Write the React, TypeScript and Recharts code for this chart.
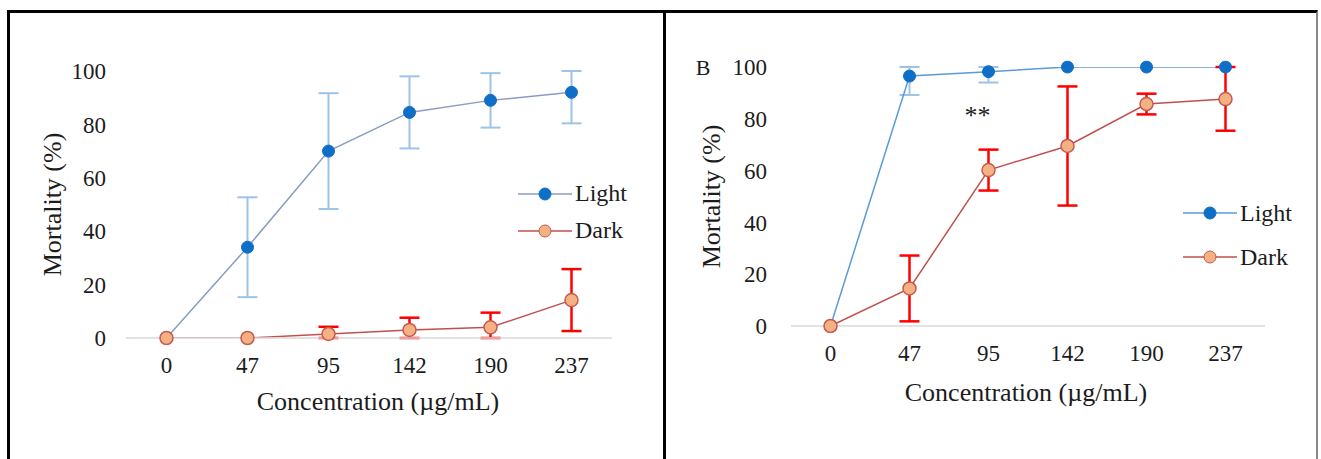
import { ErrorBar, Label, Legend, Line, LineChart, ReferenceDot, XAxis, YAxis } from "recharts"

const categories = ["0", "47", "95", "142", "190", "237"]
const yTicks = [0, 20, 40, 60, 80, 100]

// panel A  (error = [below, above], cut at the 0-100 axis range like the original)
const lightA = [0, 34, 70, 84.5, 89, 92]
const lightAErr = [0, 18.7, 21.7, 13.5, 10.2, [11.6, 8]]
const darkA = [0, 0, 1.5, 3, 4, 14.2]
const darkAErr = [0, 0, [1.5, 2.7], [3, 4.6], [4, 5.5], 11.6]

// panel B
const lightB = [0, 96.5, 98.2, 100, 100, 100]
const lightBErr = [0, [7.3, 3.5], [4.2, 1.8], 0, 0, 0]
const darkB = [0, 14.5, 60.2, 69.5, 85.7, 87.6]
const darkBErr = [0, 12.7, 7.9, 23, 4, [12.2, 12.4]]

const FONT = "'Liberation Serif', 'Times New Roman', serif"
const TEXT = "#1c1c1c"

type Err = number | number[]

const buildRows = (light: number[], lightErr: Err[], dark: number[], darkErr: Err[]) =>
  categories.map((cat, i) => ({ cat, light: light[i], lightErr: lightErr[i], dark: dark[i], darkErr: darkErr[i] }))

const dataA = buildRows(lightA, lightAErr, darkA, darkAErr)
const dataB = buildRows(lightB, lightBErr, darkB, darkBErr)

function LegendBox({ lightLine, gap }: { lightLine: string; gap: number }) {
  const items = [
    { name: "Light", line: lightLine, fill: "#0F6FC6", stroke: "#0F6FC6" },
    { name: "Dark", line: "#C0504D", fill: "#F4B183", stroke: "#C65A4E" },
  ]
  return (
    <div style={{ fontFamily: FONT, fontSize: 24, color: TEXT }}>
      {items.map((it) => (
        <div key={it.name} style={{ display: "flex", alignItems: "center", height: gap }}>
          <svg width={54} height={16} style={{ marginRight: 3 }}>
            <line x1={0} y1={8} x2={54} y2={8} stroke={it.line} strokeWidth={1.5} />
            <circle cx={27} cy={8} r={6} fill={it.fill} stroke={it.stroke} strokeWidth={1} />
          </svg>
          <span>{it.name}</span>
        </div>
      ))}
    </div>
  )
}

interface PanelProps {
  data: ReturnType<typeof buildRows>
  width: number
  margin: { top: number; right: number; bottom: number; left: number }
  yWidth: number
  pad: number
  lightLine: string
  yTitleX: number
  xTitleX: number
  xTitleY: number
  tickGap: number
  legendPos: { left: number; top: number }
  legendGap: number
  letter?: { x: number; y: number }
  stars?: boolean
}

function Panel(p: PanelProps) {
  const plotTop = p.margin.top
  const plotBottom = 459 - p.margin.bottom - 60
  const yMid = (plotTop + plotBottom) / 2
  return (
    <LineChart width={p.width} height={459} data={p.data} margin={p.margin} style={{ fontFamily: FONT }}>
      <XAxis
        dataKey="cat"
        height={60}
        padding={{ left: p.pad, right: p.pad }}
        axisLine={{ stroke: "#D9D9D9", strokeWidth: 1.5 }}
        tickLine={false}
        tickSize={0}
        tickMargin={19}
        tick={{ fill: TEXT, fontSize: 23, fontFamily: FONT }}
      >
        <Label
          content={() => (
            <text x={p.xTitleX} y={p.xTitleY} textAnchor="middle" fill={TEXT} fontSize={26} fontFamily={FONT}>
              Concentration (µg/mL)
            </text>
          )}
        />
      </XAxis>
      <YAxis
        width={p.yWidth}
        domain={[0, 100]}
        allowDataOverflow
        ticks={yTicks}
        axisLine={false}
        tickLine={false}
        tickSize={0}
        tickMargin={p.tickGap}
        tick={{ fill: TEXT, fontSize: 23, fontFamily: FONT }}
      >
        <Label
          content={() => (
            <g>
              <text
                x={p.yTitleX}
                y={yMid}
                textAnchor="middle"
                dominantBaseline="central"
                transform={`rotate(-90, ${p.yTitleX}, ${yMid})`}
                fill={TEXT}
                fontSize={26}
                fontFamily={FONT}
              >
                Mortality (%)
              </text>
              {p.letter && (
                <text x={p.letter.x} y={p.letter.y} textAnchor="middle" dominantBaseline="central" fill={TEXT} fontSize={22} fontFamily={FONT}>
                  B
                </text>
              )}
            </g>
          )}
        />
      </YAxis>
      {p.stars && (
        <ReferenceDot
          x="95"
          y={83}
          r={0}
          fill="none"
          stroke="none"
          label={{ value: "**", position: "center", dx: -11, dy: 4, fill: TEXT, fontSize: 26, fontFamily: FONT }}
        />
      )}
      <Line
        dataKey="light"
        stroke={p.lightLine}
        strokeWidth={1.5}
        dot={{ r: 6, fill: "#0F6FC6", stroke: "#0F6FC6", strokeWidth: 1, clipDot: false }}
        activeDot={false}
        isAnimationActive={false}
      >
        <ErrorBar dataKey="lightErr" direction="y" width={10} stroke="#9DC3E6" strokeWidth={2} />
      </Line>
      <Line
        dataKey="dark"
        stroke="#C0504D"
        strokeWidth={1.5}
        dot={{ r: 6.5, fill: "#F4B183", stroke: "#C65A4E", strokeWidth: 1.5, clipDot: false }}
        activeDot={false}
        isAnimationActive={false}
      >
        <ErrorBar dataKey="darkErr" direction="y" width={10} stroke="#FF0000" strokeWidth={2.5} />
      </Line>
      <Legend
        layout="vertical"
        align="center"
        verticalAlign="middle"
        wrapperStyle={{ position: "absolute", left: p.legendPos.left, top: p.legendPos.top, width: 140 }}
        content={() => <LegendBox lightLine={p.lightLine} gap={p.legendGap} />}
      />
    </LineChart>
  )
}

export default function App() {
  return (
    <div style={{ position: "absolute", left: 0, top: 0, width: 1321, height: 459, background: "#fff", overflow: "hidden" }}>
      {/* frame */}
      <div style={{ position: "absolute", left: 7, top: 10, width: 1311, height: 460, borderTop: "3px solid #000", borderLeft: "3px solid #000", borderRight: "2px solid #888", boxSizing: "border-box" }} />
      <div style={{ position: "absolute", left: 663, top: 10, width: 3, height: 449, background: "#000" }} />

      <div style={{ position: "absolute", left: 0, top: 0 }}>
        <Panel
          data={dataA}
          width={663}
          margin={{ top: 71, right: 51, bottom: 61, left: 5 }}
          yWidth={121}
          pad={40.5}
          lightLine="#8A9CC2"
          yTitleX={52}
          xTitleX={378}
          xTitleY={410}
          tickGap={20}
          legendPos={{ left: 518, top: 175 }}
          legendGap={37}
        />
      </div>
      <div style={{ position: "absolute", left: 663, top: 0 }}>
        <Panel
          data={dataB}
          width={658}
          margin={{ top: 67, right: 56, bottom: 73, left: 5 }}
          yWidth={123}
          pad={39.5}
          lightLine="#5B9BD5"
          yTitleX={48}
          xTitleX={363}
          xTitleY={401}
          tickGap={24}
          legendPos={{ left: 520, top: 191 }}
          legendGap={44}
          letter={{ x: 40, y: 67 }}
          stars
        />
      </div>
    </div>
  )
}
